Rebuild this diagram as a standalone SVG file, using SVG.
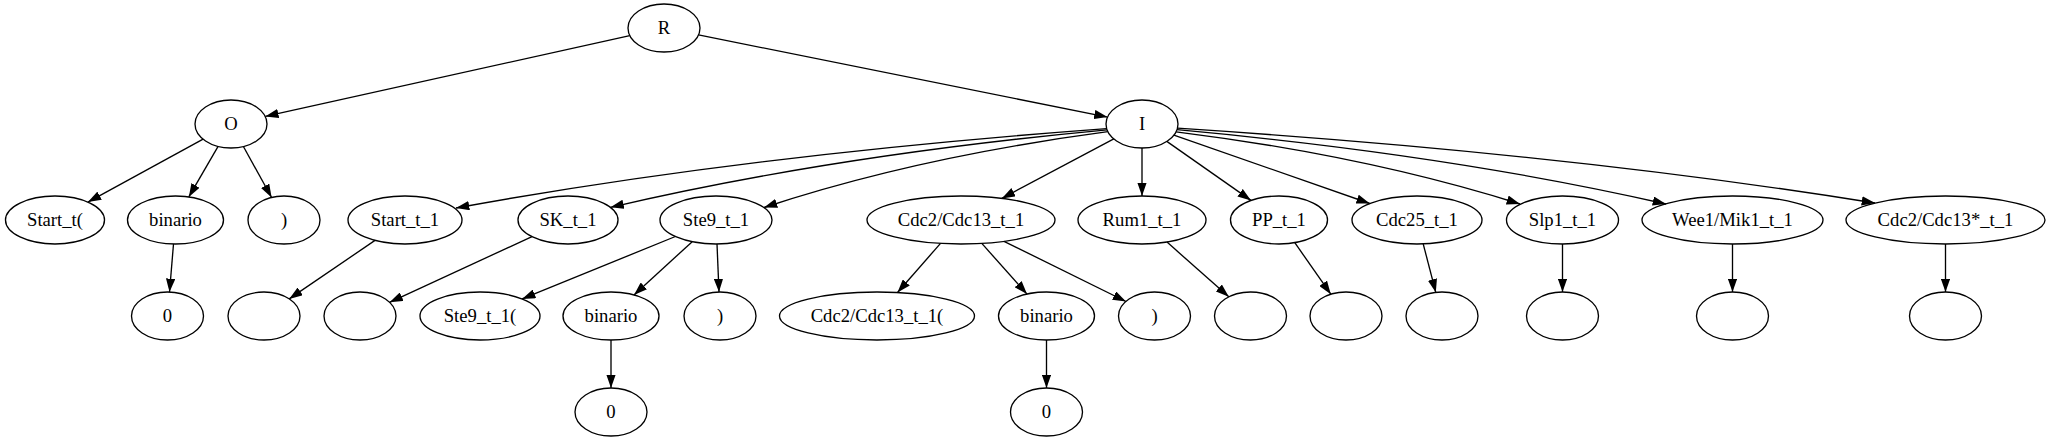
<svg xmlns="http://www.w3.org/2000/svg" width="2054" height="443" viewBox="0 0 2054 443">
<style>
.n ellipse{fill:none;stroke:#000;stroke-width:1.33}
.n text{font-family:"Liberation Serif","Times New Roman",serif;font-size:18.67px;text-anchor:middle;fill:#000}
#edges path{fill:none;stroke:#000;stroke-width:1.33;marker-end:url(#ah)}
</style>
<defs>
<marker id="ah" markerUnits="userSpaceOnUse" viewBox="0 0 13.33 9.33" refX="13.33" refY="4.67" markerWidth="13.33" markerHeight="9.33" orient="auto">
<path d="M0,0 L13.33,4.67 L0,9.33 z" fill="#000"/>
</marker>
</defs>
<rect width="2054" height="443" fill="#fff"/>
<g id="edges">
<path d="M629.8,35.6 L265.2,116.4"/>
<path d="M698.5,34.9 L1107.5,117.1"/>
<path d="M203.1,139.2 L87.9,202.1"/>
<path d="M218.1,146.4 L188.8,196.9"/>
<path d="M243.4,146.5 L271.6,197.5"/>
<path d="M173.5,244 L169.5,292"/>
<path d="M1106.7,128.6 C889.8,144.5 672.9,168.3 456,208"/>
<path d="M1107.1,129.8 C941.6,145.3 776,168.6 610.5,207.3"/>
<path d="M1107.9,131.7 C993.3,146.9 878.6,169.6 764,207.5"/>
<path d="M1113.8,138.9 L1001.8,198.4"/>
<path d="M1142,148 L1142,196"/>
<path d="M1166.8,141.4 L1251,200.4"/>
<path d="M1173.9,135.1 L1369.8,203.5"/>
<path d="M1176.1,131.8 C1290.7,146.2 1405.4,167.9 1520,204"/>
<path d="M1177,129.7 C1340,144.6 1503,166.9 1666,204"/>
<path d="M1177.4,128.2 C1409.9,143.2 1642.5,165.6 1875,203"/>
<path d="M375,240.4 L289.2,298.9"/>
<path d="M532,236.6 L389.6,302.3"/>
<path d="M675.4,236.5 L522.1,298.9"/>
<path d="M692.2,241.7 L634,294.9"/>
<path d="M717,244 L719,292"/>
<path d="M611,340 L611,388"/>
<path d="M940.5,243.4 L897.5,292.5"/>
<path d="M981.8,243.4 L1027,294.1"/>
<path d="M1004,241.3 L1126,301.5"/>
<path d="M1046.5,340 L1046.5,388"/>
<path d="M1167,242.1 L1228.8,296.8"/>
<path d="M1294.8,242.7 L1330.8,294.2"/>
<path d="M1423.2,243.9 L1435.8,292.4"/>
<path d="M1562.5,244 L1562.5,292"/>
<path d="M1732.5,244 L1732.5,292"/>
<path d="M1945.5,244 L1945.5,292"/>
</g>
<g id="R" class="n"><ellipse cx="664" cy="28" rx="36" ry="24"/><text x="664" y="34">R</text></g>
<g id="O" class="n"><ellipse cx="231" cy="124" rx="36" ry="24"/><text x="231" y="130">O</text></g>
<g id="I" class="n"><ellipse cx="1142" cy="124" rx="36" ry="24"/><text x="1142" y="130">I</text></g>
<g id="Start_t_open" class="n"><ellipse cx="55" cy="220" rx="49.5" ry="24"/><text x="55" y="226">Start_t(</text></g>
<g id="binario_a" class="n"><ellipse cx="175.5" cy="220" rx="48" ry="24"/><text x="175.5" y="226">binario</text></g>
<g id="paren_a" class="n"><ellipse cx="284" cy="220" rx="36" ry="24"/><text x="284" y="226">)</text></g>
<g id="Start_t_1" class="n"><ellipse cx="405" cy="220" rx="57" ry="24"/><text x="405" y="226">Start_t_1</text></g>
<g id="SK_t_1" class="n"><ellipse cx="568" cy="220" rx="50" ry="24"/><text x="568" y="226">SK_t_1</text></g>
<g id="Ste9_t_1" class="n"><ellipse cx="716" cy="220" rx="56" ry="24"/><text x="716" y="226">Ste9_t_1</text></g>
<g id="Cdc2_Cdc13_t_1" class="n"><ellipse cx="961" cy="220" rx="94" ry="24"/><text x="961" y="226">Cdc2/Cdc13_t_1</text></g>
<g id="Rum1_t_1" class="n"><ellipse cx="1142" cy="220" rx="64" ry="24"/><text x="1142" y="226">Rum1_t_1</text></g>
<g id="PP_t_1" class="n"><ellipse cx="1279" cy="220" rx="48.5" ry="24"/><text x="1279" y="226">PP_t_1</text></g>
<g id="Cdc25_t_1" class="n"><ellipse cx="1417" cy="220" rx="65" ry="24"/><text x="1417" y="226">Cdc25_t_1</text></g>
<g id="Slp1_t_1" class="n"><ellipse cx="1562.5" cy="220" rx="56" ry="24"/><text x="1562.5" y="226">Slp1_t_1</text></g>
<g id="Wee1_Mik1_t_1" class="n"><ellipse cx="1732.5" cy="220" rx="90.5" ry="24"/><text x="1732.5" y="226">Wee1/Mik1_t_1</text></g>
<g id="Cdc2_Cdc13s_t_1" class="n"><ellipse cx="1945.5" cy="220" rx="99.5" ry="24"/><text x="1945.5" y="226">Cdc2/Cdc13*_t_1</text></g>
<g id="zero_a" class="n"><ellipse cx="167.5" cy="316" rx="36" ry="24"/><text x="167.5" y="322">0</text></g>
<g id="empty_1" class="n"><ellipse cx="264" cy="316" rx="36" ry="24"/></g>
<g id="empty_2" class="n"><ellipse cx="360" cy="316" rx="36" ry="24"/></g>
<g id="Ste9_t_1_open" class="n"><ellipse cx="480" cy="316" rx="60" ry="24"/><text x="480" y="322">Ste9_t_1(</text></g>
<g id="binario_b" class="n"><ellipse cx="611" cy="316" rx="48" ry="24"/><text x="611" y="322">binario</text></g>
<g id="paren_b" class="n"><ellipse cx="720" cy="316" rx="36" ry="24"/><text x="720" y="322">)</text></g>
<g id="Cdc2_Cdc13_t_1_open" class="n"><ellipse cx="877" cy="316" rx="97.5" ry="24"/><text x="877" y="322">Cdc2/Cdc13_t_1(</text></g>
<g id="binario_c" class="n"><ellipse cx="1046.5" cy="316" rx="48" ry="24"/><text x="1046.5" y="322">binario</text></g>
<g id="paren_c" class="n"><ellipse cx="1154.5" cy="316" rx="36" ry="24"/><text x="1154.5" y="322">)</text></g>
<g id="empty_3" class="n"><ellipse cx="1250.5" cy="316" rx="36" ry="24"/></g>
<g id="empty_4" class="n"><ellipse cx="1346" cy="316" rx="36" ry="24"/></g>
<g id="empty_5" class="n"><ellipse cx="1442" cy="316" rx="36" ry="24"/></g>
<g id="empty_6" class="n"><ellipse cx="1562.5" cy="316" rx="36" ry="24"/></g>
<g id="empty_7" class="n"><ellipse cx="1732.5" cy="316" rx="36" ry="24"/></g>
<g id="empty_8" class="n"><ellipse cx="1945.5" cy="316" rx="36" ry="24"/></g>
<g id="zero_b" class="n"><ellipse cx="611" cy="412" rx="36" ry="24"/><text x="611" y="418">0</text></g>
<g id="zero_c" class="n"><ellipse cx="1046.5" cy="412" rx="36" ry="24"/><text x="1046.5" y="418">0</text></g>
</svg>
